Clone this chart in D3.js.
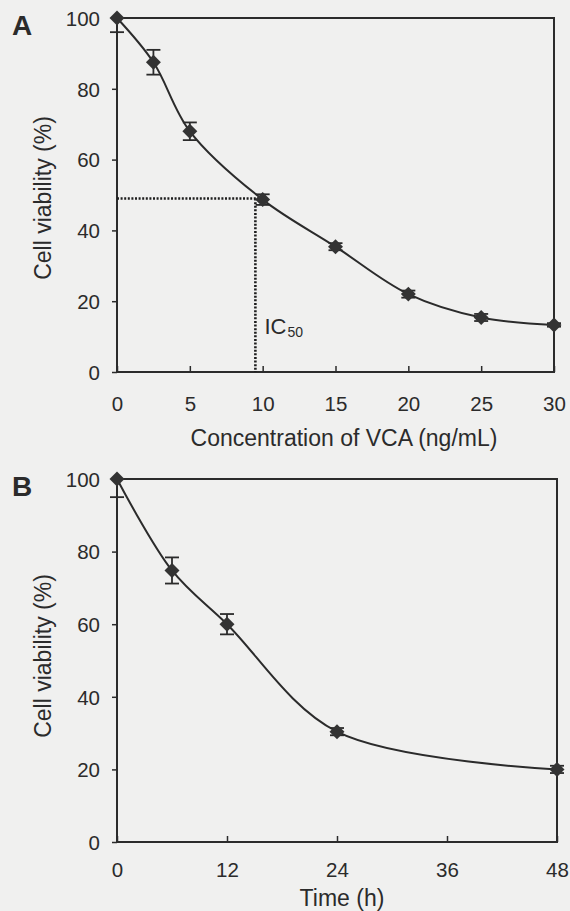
<!DOCTYPE html>
<html>
<head>
<meta charset="utf-8">
<script src="https://cdn.jsdelivr.net/npm/d3@7"></script>
<style>
  body { margin: 0; background: #f0f0ef; }
  svg { display: block; font-family: "Liberation Sans", Arial, sans-serif; }
  .axis text { fill: #2b2b2b; font-size: 20.5px; }
  .axis line { stroke: #2b2b2b; stroke-width: 1.5; }
</style>
</head>
<body>
<script>
// panel A: dose response
const concA = [0, 2.5, 5, 10, 15, 20, 25, 30]
const viabA = [100, 87.5, 68, 48.7, 35.4, 22, 15.4, 13.3]
const errA = [4, 3.5, 2.5, 1.5, 1, 1, 1, 0.5]
const ticksA = [0, 5, 10, 15, 20, 25, 30]
// panel B: time course
const timeB = [0, 6, 12, 24, 48]
const viabB = [100, 74.8, 60, 30.4, 20]
const errB = [5, 3.6, 2.8, 1, 1]
const ticksB = [0, 12, 24, 36, 48]
const yTicks = [0, 20, 40, 60, 80, 100]
const ic50 = {x: 9.5, y: 49, xEnd: 10}

const ink = '#2b2b2b'
const width = 570, height = 911

const svg = d3.select('body').append('svg')
  .attr('width', width)
  .attr('height', height)

function panel(opt){
  const x = d3.scaleLinear().domain(opt.xDomain).range([opt.left, opt.right])
  const y = d3.scaleLinear().domain([0, 100]).range([opt.bottom, opt.top])
  const g = svg.append('g')

  // axes
  g.append('g').attr('class', 'axis')
    .attr('transform', `translate(${opt.left},0)`)
    .call(d3.axisLeft(y).tickValues(yTicks).tickSize(5).tickPadding(12))
    .call(a => a.select('.domain').remove())
    .selectAll('text').attr('dy', '0.36em')

  g.append('g').attr('class', 'axis')
    .attr('transform', `translate(0,${opt.bottom})`)
    .call(d3.axisBottom(x).tickValues(opt.ticks).tickSize(-6).tickPadding(opt.tickPad))
    .call(a => a.select('.domain').remove())

  // frame
  g.append('rect')
    .attr('x', opt.left).attr('y', opt.top)
    .attr('width', opt.right - opt.left).attr('height', opt.bottom - opt.top)
    .attr('fill', 'none').attr('stroke', ink).attr('stroke-width', 2)

  if (opt.extra) opt.extra(g, x, y)

  const pts = opt.xs.map((d, i) => ({x: d, y: opt.ys[i], e: opt.es[i]}))

  // smoothed line
  g.append('path').datum(pts)
    .attr('fill', 'none').attr('stroke', ink).attr('stroke-width', 2)
    .attr('d', d3.line().x(d => x(d.x)).y(d => y(d.y)).curve(d3.curveCatmullRom.alpha(0.5)))

  // error bars
  const eb = g.append('g').attr('stroke', ink).attr('stroke-width', 1.8)
  pts.forEach(d => {
    const hi = Math.min(d.y + d.e, 100), lo = d.y - d.e
    eb.append('line').attr('x1', x(d.x)).attr('x2', x(d.x)).attr('y1', y(hi)).attr('y2', y(lo))
    eb.append('line').attr('x1', x(d.x) - 7).attr('x2', x(d.x) + 7).attr('y1', y(lo)).attr('y2', y(lo))
    if (hi < 100) eb.append('line').attr('x1', x(d.x) - 7).attr('x2', x(d.x) + 7).attr('y1', y(hi)).attr('y2', y(hi))
  })

  // diamonds
  g.selectAll('path.mark').data(pts).join('path')
    .attr('class', 'mark')
    .attr('d', d3.symbol(d3.symbolSquare, 112))
    .attr('transform', d => `translate(${x(d.x)},${y(d.y)}) rotate(45)`)
    .attr('fill', '#333')

  // titles
  g.append('text')
    .attr('transform', `translate(${opt.yTitleX},${opt.yTitleY}) rotate(-90)`)
    .attr('text-anchor', 'middle').attr('fill', ink).attr('font-size', 23)
    .text('Cell viability (%)')
  g.append('text')
    .attr('x', opt.xTitleX).attr('y', opt.xTitleY)
    .attr('text-anchor', 'middle').attr('fill', ink).attr('font-size', 23)
    .text(opt.xTitle)
  g.append('text')
    .attr('x', 12).attr('y', opt.top + 16.5)
    .attr('fill', ink).attr('font-size', 28).attr('font-weight', 'bold')
    .text(opt.label)
}

panel({
  label: 'A', xDomain: [0, 30], left: 117, right: 554, top: 18, bottom: 372,
  xs: concA, ys: viabA, es: errA, ticks: ticksA, tickPad: 24,
  xTitle: 'Concentration of VCA (ng/mL)', xTitleX: 344, xTitleY: 446,
  yTitleX: 51, yTitleY: 198,
  extra: (g, x, y) => {
    const dot = g.append('g').attr('stroke', '#1e1e1e').attr('stroke-width', 2.6)
      .attr('stroke-dasharray', '2,1.6').attr('fill', 'none')
    dot.append('line').attr('x1', x(0)).attr('x2', x(ic50.xEnd)).attr('y1', y(ic50.y)).attr('y2', y(ic50.y))
    dot.append('line').attr('x1', x(ic50.x)).attr('x2', x(ic50.x)).attr('y1', y(ic50.y)).attr('y2', y(0))
    const t = g.append('text').attr('x', x(ic50.x) + 9).attr('y', 334)
      .attr('fill', ink).attr('font-size', 22)
    t.append('tspan').text('IC')
    t.append('tspan').attr('font-size', 14).attr('dy', 3).attr('dx', 1).text('50')
  }
})

panel({
  label: 'B', xDomain: [0, 48], left: 117, right: 557, top: 479, bottom: 842,
  xs: timeB, ys: viabB, es: errB, ticks: ticksB, tickPad: 20,
  xTitle: 'Time (h)', xTitleX: 342, xTitleY: 906,
  yTitleX: 51, yTitleY: 656
})
</script>
</body>
</html>
